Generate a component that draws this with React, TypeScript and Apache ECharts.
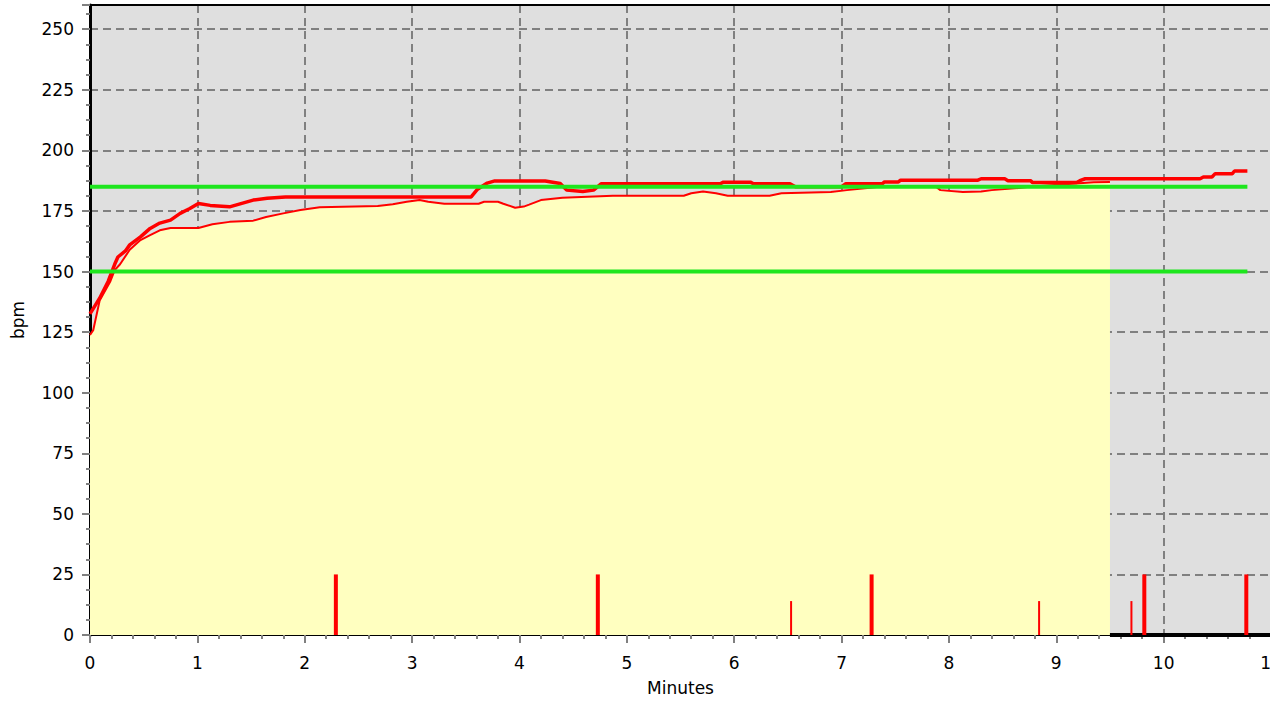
import React, { useEffect, useRef } from "react";
import * as echarts from "echarts";

// Heart rate (thick red line): [minutes, bpm]
const heartRate: [number, number][] = [
  [0, 132.5], [0.09, 139], [0.17, 146], [0.23, 153], [0.26, 156], [0.33, 158.5],
  [0.37, 161], [0.47, 164.3], [0.56, 167.8], [0.65, 170], [0.75, 171.2], [0.84, 174],
  [0.93, 176], [1.01, 178.1], [1.12, 177.3], [1.3, 176.7], [1.52, 179.5], [1.65, 180.2],
  [1.82, 180.8], [3.55, 180.8], [3.61, 184], [3.7, 186.5], [3.77, 187.4], [4.24, 187.4],
  [4.38, 186.3], [4.44, 183.6], [4.59, 183], [4.69, 183.6], [4.76, 186.2], [5.87, 186.2],
  [5.9, 186.9], [6.15, 186.9], [6.18, 186.2], [6.52, 186.2], [6.57, 185], [7.0, 185],
  [7.04, 186.2], [7.38, 186.2], [7.4, 187], [7.53, 187], [7.55, 187.7], [8.27, 187.7],
  [8.3, 188.3], [8.52, 188.3], [8.55, 187.5], [8.76, 187.5], [8.78, 186.7], [9.19, 186.7],
  [9.22, 187.5], [9.27, 188.3], [10.34, 188.3], [10.37, 189], [10.45, 189], [10.48, 190.4],
  [10.64, 190.4], [10.66, 191.5], [10.78, 191.5],
];

// Thin red line over the yellow area: [minutes, bpm]
const averageRate: [number, number][] = [
  [0, 123.8], [0.03, 125.8], [0.09, 138], [0.19, 146], [0.23, 150.6], [0.28, 153],
  [0.37, 159], [0.47, 163], [0.56, 165], [0.65, 167], [0.75, 168], [1.01, 168],
  [1.14, 169.5], [1.3, 170.5], [1.52, 171], [1.64, 172.5], [1.8, 174], [1.96, 175.4],
  [2.14, 176.5], [2.68, 177], [2.82, 177.8], [2.95, 178.8], [3.07, 179.5], [3.15, 178.8],
  [3.3, 178], [3.62, 178], [3.67, 178.8], [3.8, 178.8], [3.85, 178], [3.96, 176.3],
  [4.04, 176.8], [4.09, 177.6], [4.2, 179.5], [4.4, 180.5], [4.87, 181.3], [5.53, 181.3],
  [5.6, 182.3], [5.71, 183], [5.83, 182.3], [5.94, 181.3], [6.33, 181.3], [6.44, 182.3],
  [6.9, 182.8], [7.05, 183.6], [7.24, 184.5], [7.35, 185], [7.88, 185], [7.92, 183.6],
  [8.13, 182.8], [8.3, 183], [8.4, 183.6], [8.65, 184.5], [8.75, 185], [9.35, 186.8],
  [9.5, 187],
];

// Zone limits (green lines)
const upperLimit: [number, number][] = [[0, 185], [10.78, 185]];
const lowerLimit: [number, number][] = [[0, 150], [10.78, 150]];

// Marker bars
const majorMarkers: [number, number][] = [[2.29, 25], [4.73, 25], [7.28, 25], [9.82, 25], [10.77, 25]];
const minorMarkers: [number, number][] = [[6.53, 14], [8.84, 14], [9.7, 14]];

// Bottom segment after the session end
const endSegment: [number, number][] = [[9.5, 0], [11, 0]];

const FONT = "DejaVu Sans";

function markerSeries(data: [number, number][], w: number) {
  return {
    type: "custom",
    data,
    z: 5,
    encode: { x: 0, y: 1 },
    clip: false,
    renderItem: (params: any, api: any) => {
      const p0 = api.coord([api.value(0), 0]);
      const p1 = api.coord([api.value(0), api.value(1)]);
      return {
        type: "rect",
        shape: { x: p0[0] - w / 2, y: p1[1], width: w, height: p0[1] - p1[1] },
        style: { fill: "#ff0000" },
      };
    },
  };
}

export default function App() {
  const ref = useRef<HTMLDivElement>(null);
  useEffect(() => {
    if (!ref.current) return;
    const chart = echarts.init(ref.current, null, { renderer: "svg" });
    chart.setOption({
      animation: false,
      grid: {
        left: 90,
        top: 5,
        width: 1181,
        height: 630,
        outerBoundsMode: "none",
        containLabel: false,
        show: true,
        backgroundColor: "#dfdfdf",
        borderColor: "#000",
        borderWidth: 2,
      },
      xAxis: [
        {
          type: "value",
          min: 0,
          max: 11,
          interval: 1,
          name: "Minutes",
          nameLocation: "middle",
          nameGap: 44,
          nameTextStyle: { fontFamily: FONT, fontSize: 17, color: "#000" },
          axisLine: { show: true, lineStyle: { color: "#000", width: 2 } },
          axisTick: { show: true, length: 8, lineStyle: { color: "#808080", width: 2 } },
          minorTick: { show: true, splitNumber: 5, length: 4, lineStyle: { color: "#808080", width: 2 } },
          axisLabel: { fontFamily: FONT, fontSize: 17, color: "#000", margin: 19, hideOverlap: false },
          splitLine: { show: true, lineStyle: { color: "#808080", width: 2, type: [8, 5] } },
        },
        {
          type: "value",
          position: "top",
          min: 0,
          max: 11,
          axisLine: { show: true, lineStyle: { color: "#000", width: 2 } },
          axisTick: { show: false },
          axisLabel: { show: false },
          splitLine: { show: false },
        },
      ],
      yAxis: {
        type: "value",
        min: 0,
        max: 260,
        interval: 25,
        name: "bpm",
        nameLocation: "middle",
        nameGap: 64,
        nameTextStyle: { fontFamily: FONT, fontSize: 17, color: "#000" },
        axisLine: { show: true, lineStyle: { color: "#000", width: 3 } },
        axisTick: { show: true, length: 8, lineStyle: { color: "#808080", width: 2 } },
        minorTick: { show: true, splitNumber: 4, length: 4, lineStyle: { color: "#808080", width: 2 } },
        axisLabel: { fontFamily: FONT, fontSize: 17, color: "#000", margin: 16, showMaxLabel: false },
        splitLine: { show: true, lineStyle: { color: "#808080", width: 2, type: [8, 5] } },
      },
      series: [
        {
          type: "line",
          data: averageRate,
          symbol: "none",
          z: 2,
          lineStyle: { color: "#ff0000", width: 2 },
          areaStyle: { color: "#ffffc0", opacity: 1 },
        },
        {
          type: "line",
          data: endSegment,
          symbol: "none",
          clip: false,
          z: 3,
          lineStyle: { color: "#000", width: 4 },
        },
        markerSeries(majorMarkers, 4),
        markerSeries(minorMarkers, 2),
        {
          type: "line",
          data: heartRate,
          symbol: "none",
          z: 6,
          lineStyle: { color: "#ff0000", width: 3.5 },
        },
        {
          type: "line",
          data: upperLimit,
          symbol: "none",
          z: 7,
          lineStyle: { color: "#1ee61e", width: 4 },
        },
        {
          type: "line",
          data: lowerLimit,
          symbol: "none",
          z: 7,
          lineStyle: { color: "#1ee61e", width: 4 },
        },
      ],
    });
    return () => chart.dispose();
  }, []);
  return (
    <div
      ref={ref}
      style={{ position: "fixed", left: 0, top: 0, width: 1270, height: 704, background: "#fff" }}
    />
  );
}
